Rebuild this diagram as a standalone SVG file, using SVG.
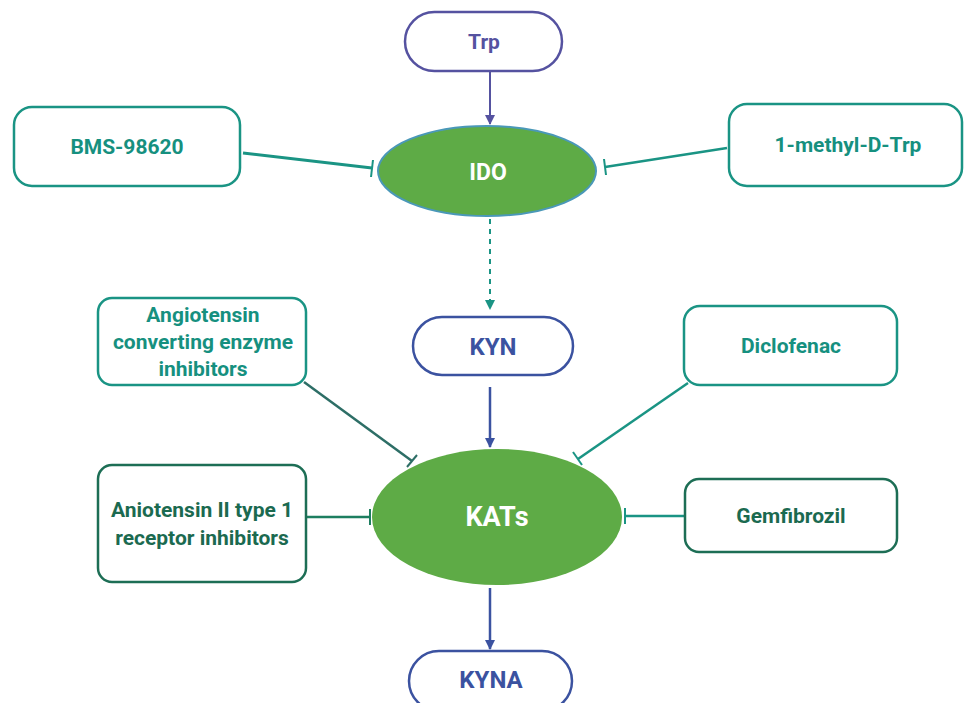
<svg xmlns="http://www.w3.org/2000/svg" width="964" height="703" viewBox="0 0 964 703">
<style>
.lbl{font-family:Roboto,"Liberation Sans",sans-serif;font-weight:bold;text-anchor:middle;dominant-baseline:central}
.box{fill:#fff;stroke-width:2.5}
.teal{stroke:#1a9484}
.dkg{stroke:#1d6e55}
.tt{fill:#16907f;font-size:21px}
.tg{fill:#1b6a50;font-size:21px}
</style>
<defs>
<marker id="ap" markerWidth="10" markerHeight="10" refX="9" refY="5" orient="auto" markerUnits="userSpaceOnUse" viewBox="0 0 10 10"><path d="M0,0 L10,5 L0,10 z" fill="#5552a0"/></marker>
<marker id="ab" markerWidth="10" markerHeight="10" refX="9" refY="5" orient="auto" markerUnits="userSpaceOnUse" viewBox="0 0 10 10"><path d="M0,0 L10,5 L0,10 z" fill="#3b52a0"/></marker>
<marker id="at" markerWidth="10" markerHeight="10" refX="9" refY="5" orient="auto" markerUnits="userSpaceOnUse" viewBox="0 0 10 10"><path d="M0,0 L10,5 L0,10 z" fill="#1a9484"/></marker>
</defs>
<rect width="964" height="703" fill="#fff"/>
<g id="connectors" fill="none">
<line x1="490" y1="72" x2="490" y2="124" stroke="#5552a0" stroke-width="2" marker-end="url(#ap)"/>
<line x1="490" y1="219" x2="490" y2="309" stroke="#1a9484" stroke-width="2" stroke-dasharray="5,5" marker-end="url(#at)"/>
<line x1="490" y1="387" x2="490" y2="447" stroke="#3b52a0" stroke-width="2.5" marker-end="url(#ab)"/>
<line x1="490" y1="588" x2="490" y2="649" stroke="#3b52a0" stroke-width="2.5" marker-end="url(#ab)"/>
<g stroke="#1a9484" stroke-width="3">
<line x1="243" y1="153" x2="372" y2="168"/>
<line x1="373" y1="160" x2="371" y2="177" stroke-width="2"/>
</g>
<g stroke="#1a9484" stroke-width="2.5">
<line x1="727" y1="148" x2="605" y2="167"/>
<line x1="604" y1="159" x2="606" y2="175" stroke-width="2"/>
</g>
<g stroke="#2d6e66" stroke-width="2.5">
<line x1="304" y1="382" x2="412" y2="461"/>
<line x1="417" y1="455" x2="407" y2="467" stroke-width="2"/>
</g>
<g stroke="#1a9484" stroke-width="2.5">
<line x1="688" y1="383" x2="578" y2="459"/>
<line x1="573" y1="452" x2="582" y2="465" stroke-width="2"/>
</g>
<g stroke="#1d7e60" stroke-width="2.5">
<line x1="307" y1="517" x2="370" y2="517"/>
<line x1="370" y1="509" x2="370" y2="525" stroke-width="2"/>
</g>
<g stroke="#1a9484" stroke-width="2.5">
<line x1="684" y1="516" x2="625" y2="516"/>
<line x1="625" y1="508" x2="625" y2="524" stroke-width="2"/>
</g>
</g>
<g id="trp">
<rect x="405" y="12" width="157" height="59" rx="29.5" class="box" stroke="#5552a0"/>
<text x="484" y="42" class="lbl" fill="#5552a0" font-size="21">Trp</text>
</g>
<g id="ido">
<ellipse cx="487" cy="171" rx="109" ry="45" fill="#5eab46" stroke="#4a98b8" stroke-width="2"/>
<text x="488" y="172" class="lbl" fill="#fff" font-size="23">IDO</text>
</g>
<g id="bms">
<rect x="14" y="107" width="226" height="79" rx="18" class="box teal"/>
<text x="127" y="147" class="lbl tt">BMS-98620</text>
</g>
<g id="mdtrp">
<rect x="729" y="104" width="233" height="82" rx="18" class="box teal"/>
<text x="848" y="145" class="lbl tt">1-methyl-D-Trp</text>
</g>
<g id="kyn">
<rect x="413" y="317" width="160" height="58" rx="29" class="box" stroke="#3b52a0"/>
<text x="493" y="347" class="lbl" fill="#3b52a0" font-size="24">KYN</text>
</g>
<g id="ace">
<rect x="98" y="298" width="208" height="87" rx="14" class="box teal"/>
<text x="203" y="315" class="lbl tt">Angiotensin</text>
<text x="203" y="342" class="lbl tt">converting enzyme</text>
<text x="203" y="369" class="lbl tt">inhibitors</text>
</g>
<g id="diclofenac">
<rect x="684" y="306" width="213" height="79" rx="16" class="box teal"/>
<text x="791" y="346" class="lbl tt">Diclofenac</text>
</g>
<g id="kats">
<ellipse cx="497" cy="517" rx="125" ry="68" fill="#5eab46"/>
<text x="497" y="517" class="lbl" fill="#fff" font-size="27">KATs</text>
</g>
<g id="at1">
<rect x="98" y="465" width="208" height="117" rx="14" class="box dkg"/>
<text x="202" y="510" class="lbl tg">Aniotensin II type 1</text>
<text x="202" y="538" class="lbl tg">receptor inhibitors</text>
</g>
<g id="gemfibrozil">
<rect x="685" y="479" width="212" height="73" rx="14" class="box dkg"/>
<text x="791" y="516" class="lbl tg">Gemfibrozil</text>
</g>
<g id="kyna">
<rect x="409" y="651" width="163" height="60" rx="30" class="box" stroke="#3b52a0"/>
<text x="491" y="680" class="lbl" fill="#3b52a0" font-size="24">KYNA</text>
</g>
</svg>
